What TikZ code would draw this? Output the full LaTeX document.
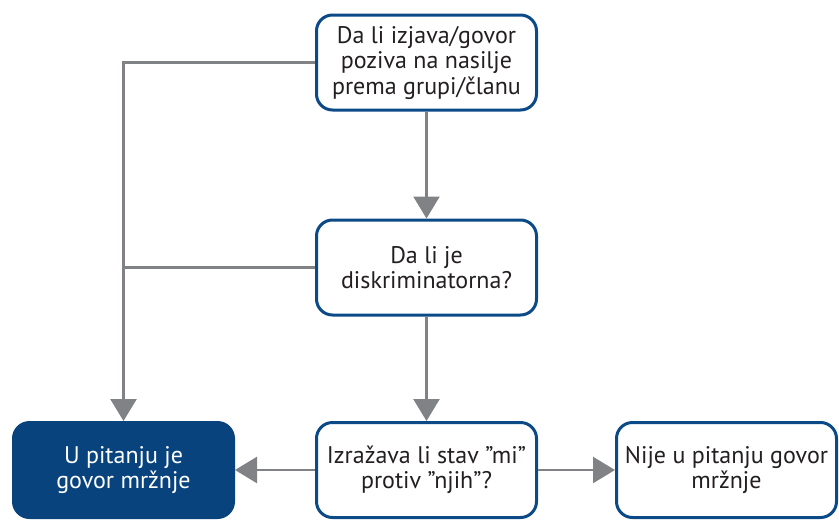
\documentclass[tikz,border=0pt]{standalone}
\usepackage{fontspec}
\setmainfont{PT Sans}
\usepackage{tikz}
\usetikzlibrary{arrows.meta}

\definecolor{boxblue}{HTML}{0B4A87}
\definecolor{fillblue}{HTML}{08437E}
\definecolor{linegray}{HTML}{808285}
\definecolor{textgray}{HTML}{231F20}

\tikzset{
  qbox/.style={draw=boxblue, line width=3pt, rounded corners=16pt, fill=white,
    minimum width=220pt, minimum height=95pt, align=center, text=textgray,
    font=\fontsize{24}{25.5}\selectfont, inner sep=2pt},
  ansbox/.style={qbox, fill=fillblue, draw=fillblue, text=white},
  flow/.style={draw=linegray, line width=2.5pt,
    -{Triangle[width=26pt,length=22pt]}},
  flowline/.style={draw=linegray, line width=2.5pt}
}

\begin{document}
\begin{tikzpicture}[x=1pt,y=1pt,yscale=-1,xscale=1]
\useasboundingbox (0,0) rectangle (839,520);

%Shape: Rounded Rect [id:q1]
\node[qbox] (q1) at (426.5,62.5) {Da li izjava/govor\\ poziva na nasilje\\ prema grupi/članu};
%Shape: Rounded Rect [id:q2]
\node[qbox] (q2) at (426.5,267.5) {Da li je\\ diskriminatorna?};
%Shape: Rounded Rect [id:q3]
\node[qbox] (q3) at (426.5,470) {Izražava li stav ”mi”\\ protiv ”njih”?};
%Shape: Rounded Rect [id:yes]
\node[ansbox] (yes) at (123.5,470) {U pitanju je\\ govor mržnje};
%Shape: Rounded Rect [id:no]
\node[qbox] (no) at (726.5,470) {Nije u pitanju govor\\ mržnje};

%Straight Lines [id:q1-q2]
\draw[flow] (q1.south) -- (q2.north);
%Straight Lines [id:q2-q3]
\draw[flow] (q2.south) -- (q3.north);
%Straight Lines [id:q1-yes]
\draw[flow] (q1.west) -| (yes.north);
%Straight Lines [id:q2-yes]
\draw[flowline] (q2.west) -- (q2.west -| yes.north);
%Straight Lines [id:q3-yes]
\draw[flow] (q3.west) -- (yes.east);
%Straight Lines [id:q3-no]
\draw[flow] (q3.east) -- (no.west);

\end{tikzpicture}
\end{document}
